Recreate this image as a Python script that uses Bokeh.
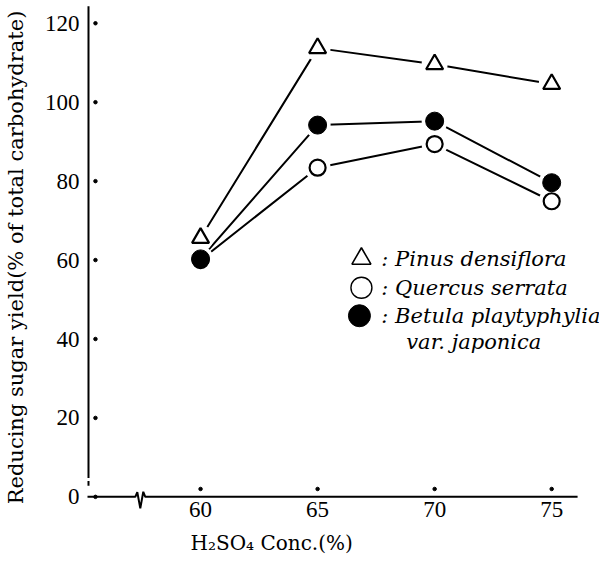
from bokeh.plotting import figure
from bokeh.models import FixedTicker, Title
from bokeh.core.properties import value
from bokeh.embed import file_html
from bokeh.resources import INLINE

# ---- data ----
CONC = [60, 65, 70, 75]
PINUS = [65.6, 113.7, 109.6, 104.6]
QUERCUS = [60.0, 83.4, 89.4, 74.9]
BETULA = [60.3, 94.2, 95.2, 79.6]
Y_TICKS = [0, 20, 40, 60, 80, 100, 120]
X_TICKS = [60, 65, 70, 75]
LEGEND_LABELS = [": Pinus densiflora", ": Quercus serrata", ": Betula playtyphylia"]
LEGEND_EXTRA = "var. japonica"

# ---- layout ----
W, H = 599, 568
FL, FR, FT, FB = 84, 599, 5, 508.6          # frame edges in px
PX_PER_X = 23.5
X0 = 60 - (198.5 - FL) / PX_PER_X
X1 = X0 + (FR - FL) / PX_PER_X
Y0, Y1 = -3.2, 124.5


def px_x(px):
    return X0 + (px - FL) / (FR - FL) * (X1 - X0)


def px_y(py):
    return Y1 - (py - FT) / (FB - FT) * (Y1 - Y0)


p = figure(width=W, height=H, x_range=(X0, X1), y_range=(Y0, Y1),
           output_backend="svg", toolbar_location=None,
           min_border_left=FL, min_border_right=W - FR,
           min_border_top=FT, min_border_bottom=int(round(H - FB)))
p.outline_line_color = None
p.grid.visible = False
p.background_fill_color = "white"
p.border_fill_color = "white"

# y axis
p.yaxis.ticker = FixedTicker(ticks=Y_TICKS)
p.yaxis.axis_line_color = None
p.yaxis.major_tick_line_color = None
p.yaxis.minor_tick_line_color = None
p.yaxis.major_label_text_font = "Liberation Serif"
p.yaxis.major_label_text_font_size = "23px"
p.yaxis.major_label_text_color = "black"
p.yaxis.major_label_standoff = 1
p.yaxis.axis_label = "Reducing sugar yield(% of total carbohydrate)"
p.yaxis.axis_label_text_font = "DejaVu Serif"
p.yaxis.axis_label_text_font_style = "normal"
p.yaxis.axis_label_text_font_size = "21px"
p.yaxis.axis_label_text_color = "black"
p.yaxis.axis_label_standoff = 14

# x axis
p.xaxis.ticker = FixedTicker(ticks=X_TICKS)
p.xaxis.axis_line_color = None
p.xaxis.major_tick_line_color = None
p.xaxis.minor_tick_line_color = None
p.xaxis.major_label_text_font = "Liberation Serif"
p.xaxis.major_label_text_font_size = "23px"
p.xaxis.major_label_text_color = "black"
p.xaxis.major_label_standoff = -14

# hand-drawn axis lines (with the axis break)
yax = px_x(86)
p.segment(x0=[yax, yax], y0=[2.8, 4.8], x1=[yax, yax], y1=[4.0, 124.3],
          line_color="black", line_width=2)
brk_x = [px_x(85), px_x(133), px_x(135), px_x(138), px_x(141), px_x(143), px_x(577)]
brk_y = [0, 0, 1.2, -2.9, 1.3, 0, 0]
p.line(brk_x, brk_y, line_color="black", line_width=2)

# dotted tick marks
p.scatter([px_x(93)] * len(Y_TICKS), Y_TICKS, size=3.5, color="black")
p.scatter(X_TICKS, [2.0] * len(X_TICKS), size=3.5, color="black")

# series lines
for ys in (PINUS, QUERCUS, BETULA):
    p.line(CONC, ys, line_color="black", line_width=2)

# white halos that open small gaps between lines and markers
for ys in (PINUS, QUERCUS, BETULA):
    p.scatter(CONC, ys, size=26, marker="circle", fill_color="white",
              line_color=None)

# markers
p.scatter(CONC, PINUS, marker="triangle", size=17, fill_color="white",
          line_color="black", line_width=2.2)
p.scatter(CONC, QUERCUS, marker="circle", size=16, fill_color="white",
          line_color="black", line_width=2.2)
p.scatter(CONC, BETULA, marker="circle", size=18, fill_color="black",
          line_color="black")

# legend
rows_y = [px_y(258), px_y(287), px_y(315)]
p.scatter([px_x(360)], [rows_y[0]], marker="triangle", size=19,
          fill_color="white", line_color="black", line_width=1.6)
p.scatter([px_x(360)], [rows_y[1]], marker="circle", size=21,
          fill_color="white", line_color="black", line_width=1.4)
p.scatter([px_x(358)], [rows_y[2]], marker="circle", size=22,
          fill_color="black", line_color="black")
p.text(x=[px_x(380)] * 3, y=rows_y, text=LEGEND_LABELS,
       text_font=value("DejaVu Serif"), text_font_style="italic",
       text_font_size="21px", text_baseline="middle", text_color="black")
p.text(x=[px_x(405)], y=[px_y(341)], text=[LEGEND_EXTRA],
       text_font=value("DejaVu Serif"), text_font_style="italic",
       text_font_size="21px", text_baseline="middle", text_color="black")

# x axis title, placed below the axis
p.add_layout(Title(text="H\u2082SO\u2084 Conc.(%)", align="left", offset=104,
                   text_font="DejaVu Serif", text_font_size="20px",
                   text_font_style="normal", text_color="black",
                   standoff=19), "below")

open("out.html", "w").write(file_html(p, INLINE))
